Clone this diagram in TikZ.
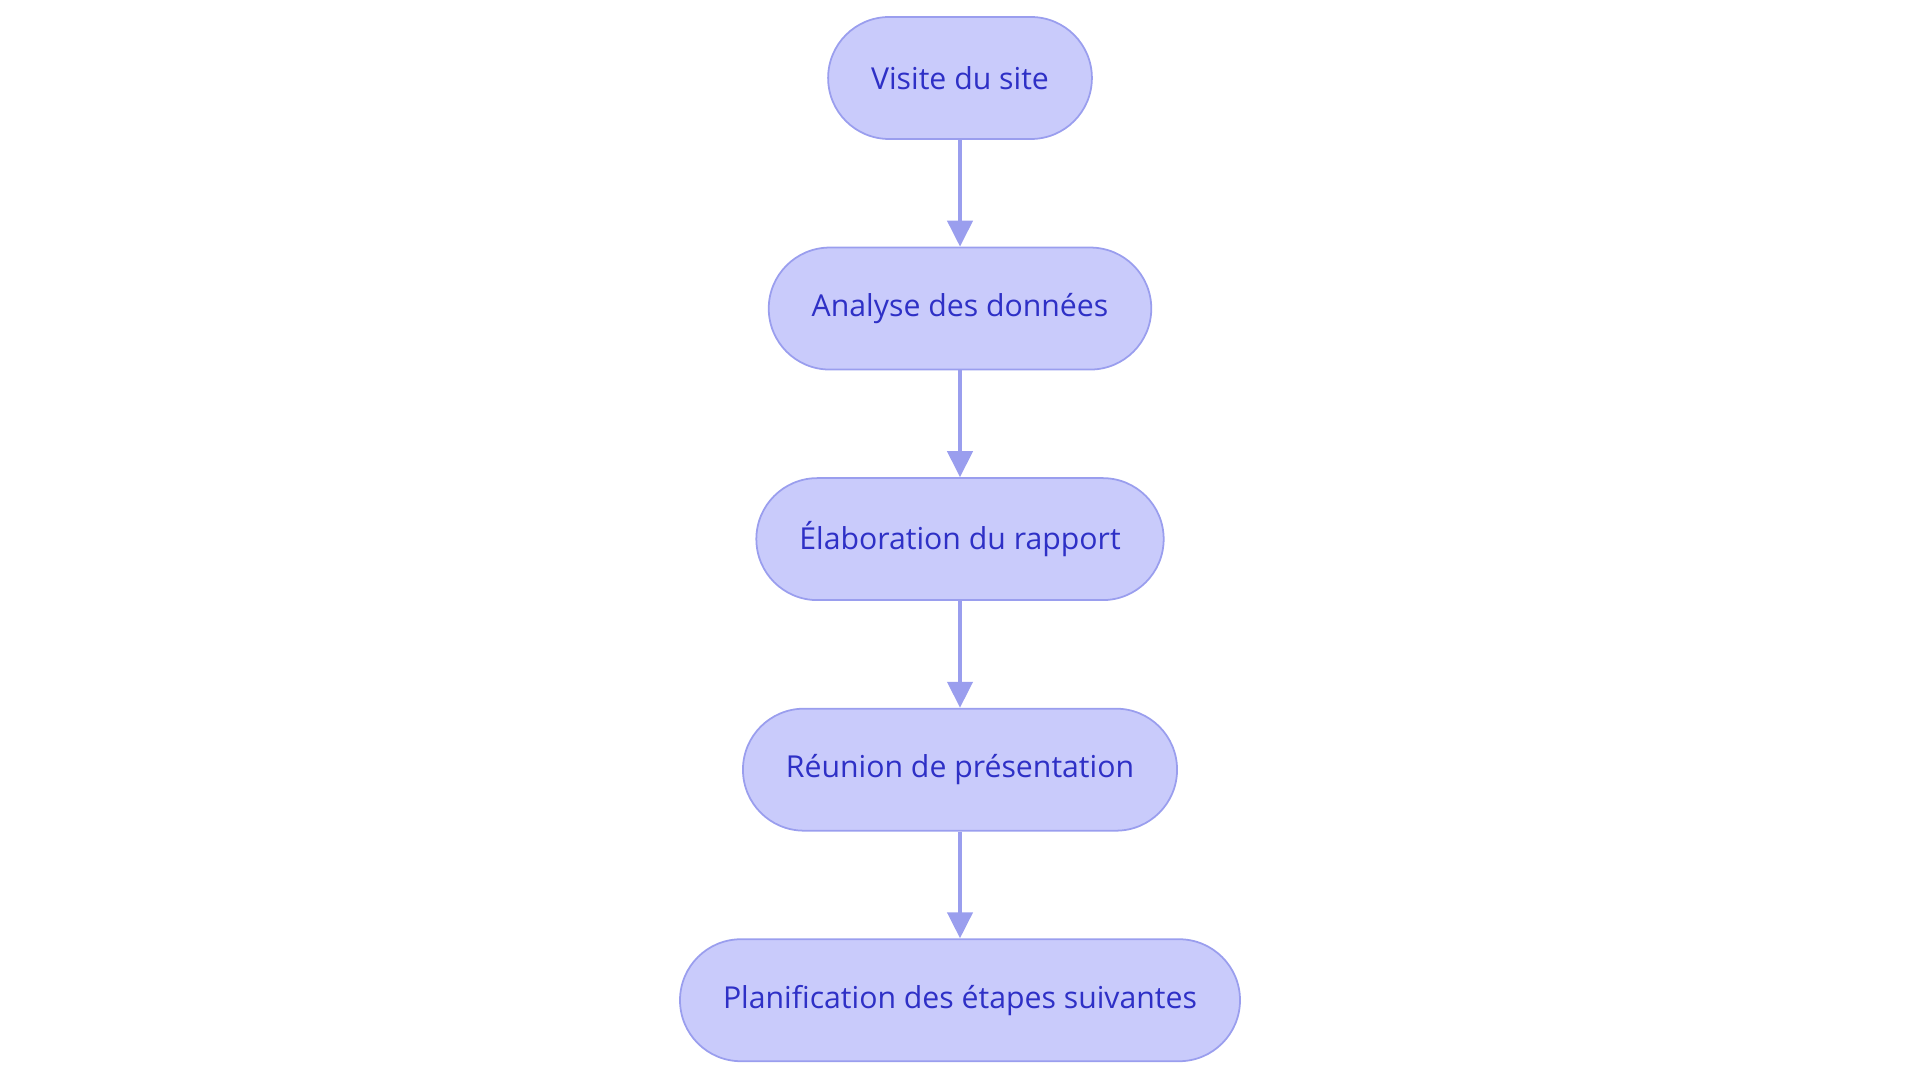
\documentclass[tikz,border=0pt]{standalone}
\usepackage{fontspec}
\setmainfont{Open Sans}
\usepackage{tikz}
\usetikzlibrary{positioning}
\usetikzlibrary{arrows.meta}
\definecolor{boxfill}{HTML}{C9CBFB}
\definecolor{boxline}{HTML}{9A9EEE}
\definecolor{boxtext}{HTML}{2E30C6}
\tikzset{stepbox/.style={draw=boxline, line width=0.5pt, fill=boxfill, text=boxtext,
  rounded corners=0.61cm, minimum height=1.22cm, inner xsep=0.43cm,
  font=\fontsize{8.6pt}{10pt}\selectfont},
  flow/.style={draw=boxline, line width=1.2pt, -{Triangle[length=0.26cm, width=0.25cm]}}}

\begin{document}
\begin{tikzpicture} [node distance=1.068cm]
\useasboundingbox (0,0) rectangle (19.2,-10.83);

\node[stepbox] (visite) at (9.6,-0.78) {Visite du site};
\node[stepbox, below=of visite] (analyse) {Analyse des données};
\node[stepbox, below=of analyse] (rapport) {Élaboration du rapport};
\node[stepbox, below=of rapport] (reunion) {Réunion de présentation};
\node[stepbox, below=of reunion] (planif) {Planification des étapes suivantes};

\draw[flow] (visite) -- (analyse);
\draw[flow] (analyse) -- (rapport);
\draw[flow] (rapport) -- (reunion);
\draw[flow] (reunion) -- (planif);
\end{tikzpicture}
\end{document}
